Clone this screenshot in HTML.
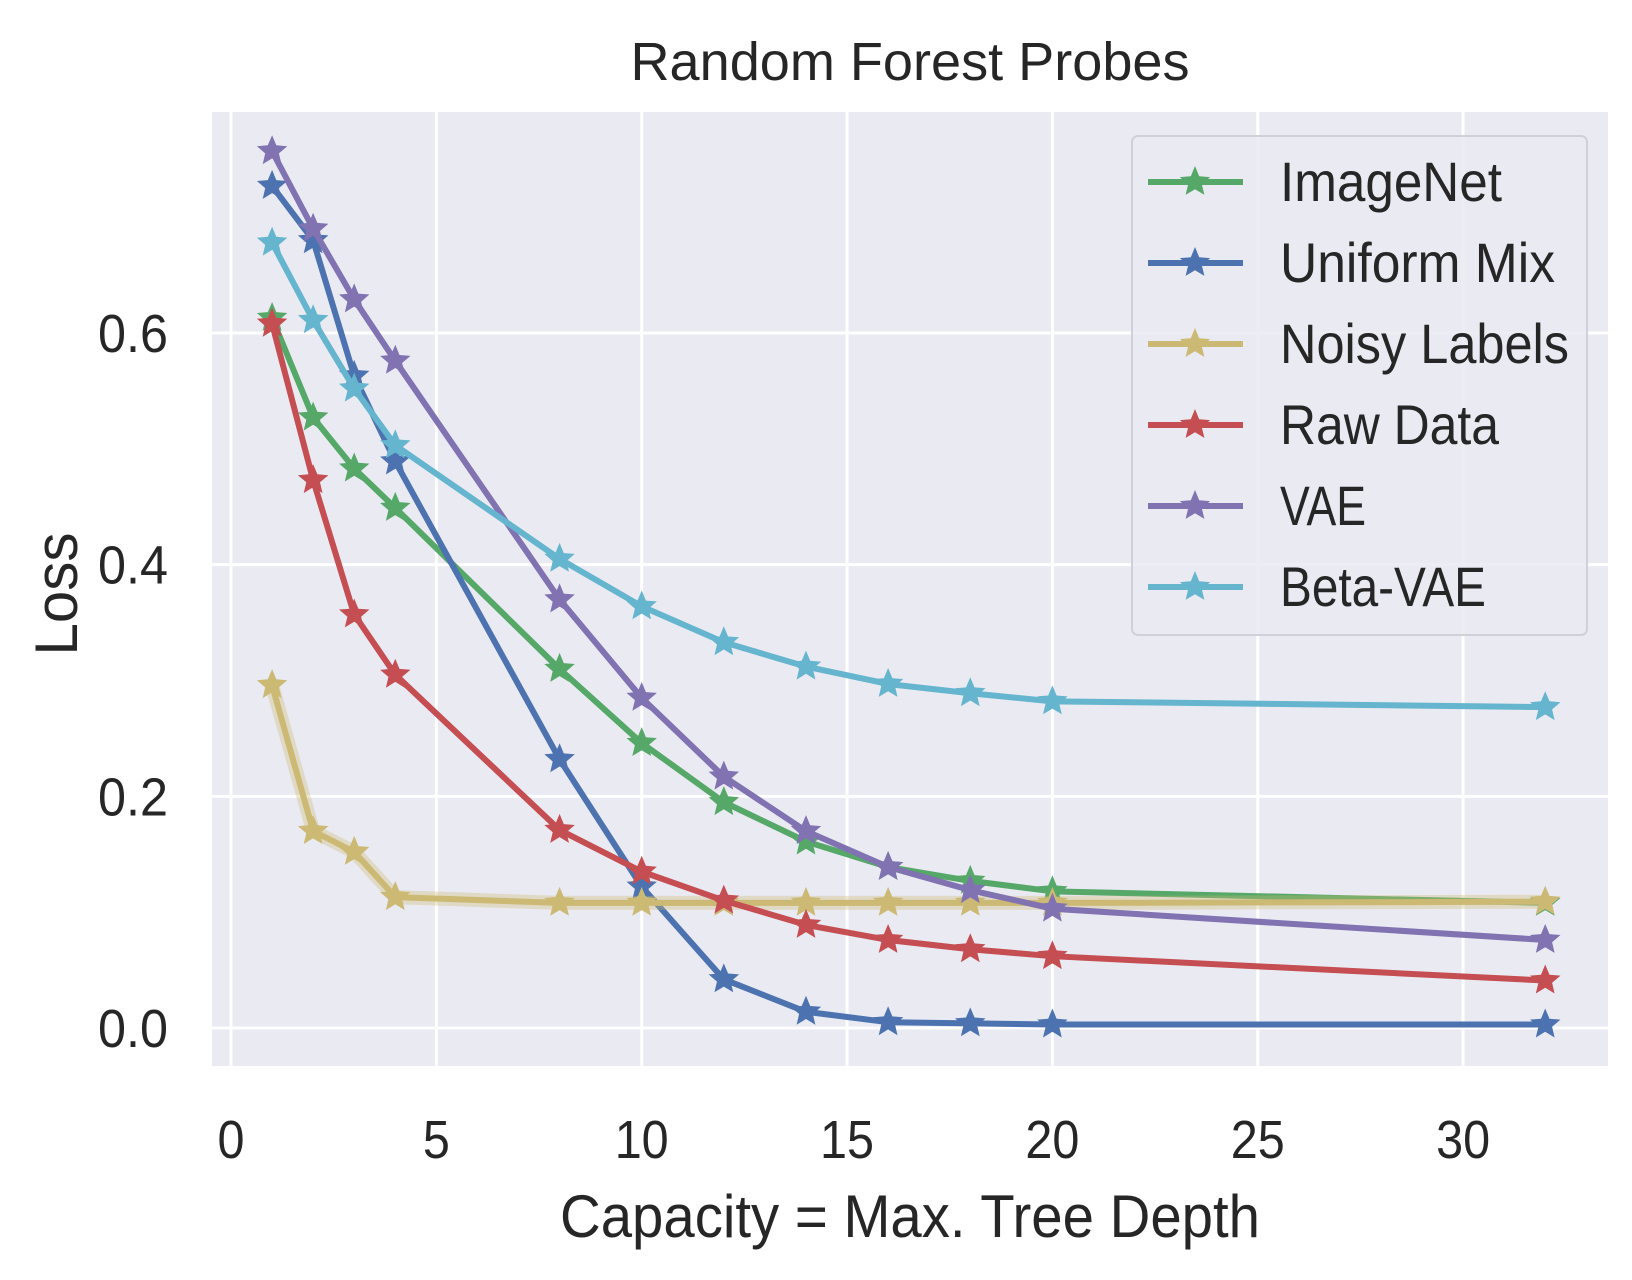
<!DOCTYPE html>
<html><head><meta charset="utf-8"><style>
body{margin:0;background:#fff;}
svg text{font-family:"Liberation Sans",sans-serif;fill:#262626;}
</style></head><body>
<svg id="chart" width="1632" height="1275" xmlns="http://www.w3.org/2000/svg">
<rect x="212" y="112" width="1396" height="954" fill="#eaeaf2"/>
<g id="grid"></g>
<g id="series"></g>
<g id="ticks"></g>
<text x="910" y="80" font-size="54" text-anchor="middle" textLength="559" lengthAdjust="spacingAndGlyphs">Random Forest Probes</text>
<text x="910" y="1237" font-size="60" text-anchor="middle" textLength="700" lengthAdjust="spacingAndGlyphs">Capacity = Max. Tree Depth</text>
<text x="0" y="0" font-size="60" text-anchor="middle" textLength="123" lengthAdjust="spacingAndGlyphs" transform="translate(77,594) rotate(-90)">Loss</text>
<g id="legend"></g>
</svg>
<script>
const depths=[1,2,3,4,8,10,12,14,16,18,20,32];
const imagenet=[0.613,0.527,0.483,0.449,0.310,0.246,0.195,0.161,0.139,0.127,0.118,0.108];
const uniformMix=[0.727,0.680,0.563,0.489,0.232,0.122,0.042,0.014,0.005,0.004,0.003,0.003];
const noisyLabels=[0.296,0.170,0.152,0.113,0.108,0.108,0.108,0.108,0.108,0.108,0.108,0.109];
const rawData=[0.608,0.473,0.357,0.305,0.171,0.135,0.110,0.089,0.076,0.068,0.062,0.041];
const vae=[0.757,0.690,0.629,0.576,0.370,0.285,0.217,0.170,0.139,0.119,0.103,0.076];
const betaVae=[0.678,0.611,0.552,0.503,0.405,0.364,0.333,0.312,0.297,0.289,0.282,0.277];
const seriesNames=["ImageNet","Uniform Mix","Noisy Labels","Raw Data","VAE","Beta-VAE"];
const xTicks=[0,5,10,15,20,25,30];
const yTicks=[0.0,0.2,0.4,0.6];

const NS="http://www.w3.org/2000/svg";
const X=v=>231+v*41.07;
const Y=v=>1028-v*1158.3;
const colors=["#55a868","#4c72b0","#ccb974","#c44e52","#8172b2","#64b5cd"];
const legendWidths=[222,275,289,219,86,206];
const allSeries=[imagenet,uniformMix,noisyLabels,rawData,vae,betaVae];
function mk(tag,attrs,parent){const e=document.createElementNS(NS,tag);for(const k in attrs)e.setAttribute(k,attrs[k]);parent.appendChild(e);return e;}
function star(cx,cy,r){let p=[];for(let i=0;i<10;i++){const a=-Math.PI/2+i*Math.PI/5;const rr=i%2?r*0.45:r;p.push((cx+rr*Math.cos(a)).toFixed(1)+","+(cy+rr*Math.sin(a)).toFixed(1));}return p.join(" ");}
const grid=document.getElementById('grid'),ticks=document.getElementById('ticks'),sg=document.getElementById('series'),lg=document.getElementById('legend');
xTicks.forEach(t=>{
 const l=mk('line',{x1:X(t),x2:X(t),y1:112,y2:1066,stroke:'#fff','stroke-width':3},grid);
 
 
 const s=String(t);
 const tx=mk('text',{x:X(t),y:1158,'font-size':54,'text-anchor':'middle',textLength:s.length*27,lengthAdjust:'spacingAndGlyphs'},ticks);tx.textContent=s;
 
 
});
yTicks.forEach(t=>{
 const l=mk('line',{x1:212,x2:1608,y1:Y(t),y2:Y(t),stroke:'#fff','stroke-width':3},grid);
 
 
 const tx=mk('text',{x:168,y:Y(t)+19,'font-size':54,'text-anchor':'end',textLength:70,lengthAdjust:'spacingAndGlyphs'},ticks);tx.textContent=t.toFixed(1);
 
 
});
allSeries.forEach((s,i)=>{
 const g=mk('g',{},sg);
 
 
 if(i===2){
  const band=mk('polyline',{points:s.map((v,j)=>X(depths[j])+','+Y(v)).join(' '),fill:'none',stroke:colors[i],'stroke-opacity':0.35,'stroke-width':14,'stroke-linejoin':'round'},g);
  
  
 }
 const pl=mk('polyline',{points:s.map((v,j)=>X(depths[j])+','+Y(v)).join(' '),fill:'none',stroke:colors[i],'stroke-width':6,'stroke-linejoin':'round'},g);
 
 
 s.forEach((v,j)=>{const p=mk('polygon',{points:star(X(depths[j]),Y(v),16),fill:colors[i]},g);
  
  });
});
const box=mk('rect',{x:1132,y:136,width:455,height:499,rx:6,fill:'#eaeaf2','fill-opacity':0.85,stroke:'#d0d0d8','stroke-width':2},lg);


const ly=[182,263,344,425,506,587];
seriesNames.forEach((n,i)=>{
 const g=mk('g',{},lg);
 
 
 mk('line',{x1:1148,x2:1243,y1:ly[i],y2:ly[i],stroke:colors[i],'stroke-width':6},g);
 mk('polygon',{points:star(1195,ly[i],16),fill:colors[i]},g);
 const t=mk('text',{x:1280,y:ly[i]+19,'font-size':56,textLength:legendWidths[i],lengthAdjust:'spacingAndGlyphs'},g);t.textContent=n;
});
</script>
</body></html>
